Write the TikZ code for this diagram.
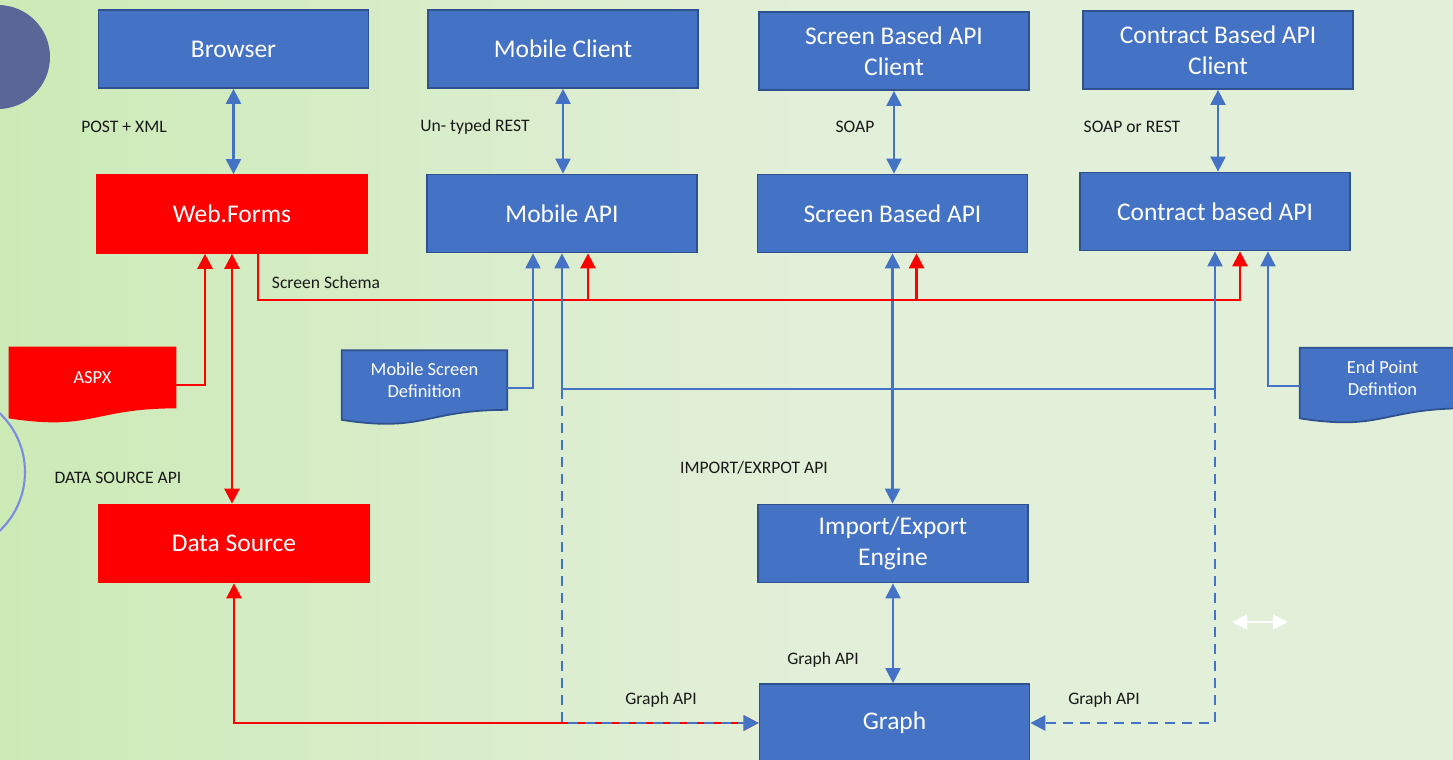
\documentclass[tikz,border=0pt]{standalone}
\usepackage{fontspec}
\setmainfont{Carlito}
\usetikzlibrary{arrows.meta,backgrounds}

\definecolor{boxblue}{HTML}{4472C4}
\definecolor{boxedge}{HTML}{2F528F}
\definecolor{bgleft}{HTML}{CCEAB6}
\definecolor{bgright}{HTML}{E2EFD9}
\definecolor{dotblue}{HTML}{5A6598}
\definecolor{ringblue}{HTML}{7B8BE0}

\newcommand{\boxfont}{\fontsize{14.5}{17.6}\selectfont}
\newcommand{\docfont}{\fontsize{10.5}{12.5}\selectfont}
\newcommand{\labelfont}{\fontsize{10}{12}\selectfont}

\begin{document}
\begin{tikzpicture}[x=0.02cm, y=-0.02cm]
        \tikzstyle{api-box}=[rectangle, draw=boxedge, line width=1pt, fill=boxblue, text=white, font=\boxfont, align=center, minimum width=5.4cm, minimum height=1.56cm, inner sep=0pt]
        \tikzstyle{source-box}=[api-box, draw=red, fill=red]
        \tikzstyle{doc-text}=[rectangle, text=white, font=\docfont, align=center, minimum width=3.3cm, minimum height=1.2cm, inner sep=0pt]
        \tikzstyle{api-label}=[font=\labelfont, text=black!90]
        \tikzstyle{flow}=[{Triangle[length=0.3cm,width=0.3cm]}-{Triangle[length=0.3cm,width=0.3cm]}, line width=1.2pt, color=boxblue]
        \tikzstyle{into}=[-{Triangle[length=0.3cm,width=0.3cm]}, line width=1.2pt, color=boxblue]
        \tikzstyle{graph-link}=[into, line width=1.5pt, dash pattern=on 0.2cm off 0.14cm]
        \tikzstyle{schema}=[-{Triangle[length=0.3cm,width=0.3cm]}, line width=1.5pt, color=red]
        \tikzstyle{data-flow}=[schema, {Triangle[length=0.3cm,width=0.3cm]}-{Triangle[length=0.3cm,width=0.3cm]}]

        \useasboundingbox (0,0) rectangle (1453,760);
        \begin{scope}[on background layer]
            \shade[left color=bgleft, right color=bgright] (0,0) rectangle (800,760);
            \fill[bgright] (800,0) rectangle (1453,760);
            \fill[dotblue] (-2,57) circle (1.04cm);
            \draw[ringblue, line width=1.2pt] (-56,472) circle (1.62cm);
        \end{scope}

        % clients
        \node[api-box] (browser) at (233.5,49) {Browser};
        \node[api-box] (mobile-client) at (563,49) {Mobile Client};
        \node[api-box] (screen-client) at (894,51) {Screen Based API\\Client};
        \node[api-box] (contract-client) at (1218,50) {Contract Based API\\Client};

        % apis
        \node[source-box] (web-forms) at (232,214) {Web.Forms};
        \node[api-box] (mobile-api) at (562,213.5) {Mobile API};
        \node[api-box] (screen-api) at (892.5,213.5) {Screen Based API};
        \node[api-box] (contract-api) at (1215,211.5) {Contract based API};
        \node[source-box] (data-source) at (234,543.5) {Data Source};
        \node[api-box] (import-export) at (893,543.5) {Import/Export\\Engine};
        \node[api-box] (graph) at (894.5,723) {Graph};

        % definitions
        \node[doc-text, minimum width=3.34cm, minimum height=1.22cm] (aspx) at (92.5,377.5) {ASPX};
        \node[doc-text, minimum height=1.18cm] (mobile-def) at (424.5,380) {Mobile Screen\\Definition};
        \node[doc-text] (end-point) at (1382.5,378) {End Point\\Defintion};
        \begin{scope}[on background layer]
            \fill[red] (aspx.north west) -- (aspx.north east) -- (aspx.south east) .. controls (aspx.south) and ([yshift=-0.46cm]aspx.south) .. ([yshift=-0.2cm]aspx.south west) -- cycle;
            \filldraw[fill=boxblue, draw=boxedge, line width=1pt] (mobile-def.north west) -- (mobile-def.north east) -- (mobile-def.south east) .. controls (mobile-def.south) and ([yshift=-0.46cm]mobile-def.south) .. ([yshift=-0.2cm]mobile-def.south west) -- cycle;
            \filldraw[fill=boxblue, draw=boxedge, line width=1pt] (end-point.north west) -- (end-point.north east) -- (end-point.south east) .. controls (end-point.south) and ([yshift=-0.46cm]end-point.south) .. ([yshift=-0.2cm]end-point.south west) -- cycle;
        \end{scope}

        \coordinate (schema-bus) at (0,300);
        \coordinate (graph-bus) at (0,389);
        \coordinate (loose-left) at (1232,622);
        \coordinate (loose-right) at (1288,622);

        \draw[flow] (browser.south) -- (browser.south |- web-forms.north);
        \draw[flow] (mobile-client.south) -- (mobile-client.south |- mobile-api.north);
        \draw[flow] (screen-client.south) -- (screen-client.south |- screen-api.north);
        \draw[flow] (contract-client.south) -- (contract-client.south |- contract-api.north);
        \draw[flow] (screen-api.south) -- (screen-api.south |- import-export.north);
        \draw[flow] (import-export.south) -- (import-export.south |- graph.north);

        \draw[schema] ([xshift=0.52cm]web-forms.south) |- ([xshift=0.5cm]contract-api.south |- schema-bus) -- ([xshift=0.5cm]contract-api.south);
        \draw[schema] ([xshift=0.52cm]mobile-api.south |- schema-bus) -- ([xshift=0.52cm]mobile-api.south);
        \draw[schema] ([xshift=0.48cm]screen-api.south |- schema-bus) -- ([xshift=0.48cm]screen-api.south);
        \draw[schema] ([yshift=-0.15cm]aspx.east) -| ([xshift=-0.54cm]web-forms.south);
        \draw[data-flow] (web-forms.south) -- (web-forms.south |- data-source.north);
        \draw[data-flow] (data-source.south) |- (graph.west);

        \draw[into] ([yshift=-0.16cm]mobile-def.east) -| ([xshift=-0.58cm]mobile-api.south);
        \draw[into] ([yshift=-0.16cm]end-point.west) -| ([xshift=1.06cm]contract-api.south);
        \draw[flow] (mobile-api.south) |- (contract-api.south |- graph-bus) -- (contract-api.south);
        \draw[graph-link] (mobile-api.south |- graph-bus) |- (graph.west);
        \draw[graph-link] (contract-api.south |- graph-bus) |- (graph.east);
        \draw[flow, color=white] (loose-left) -- (loose-right);

        \node[api-label] (post-label) at (124,127) {POST + XML};
        \node[api-label] (rest-label) at (475,127) {Un- typed REST};
        \node[api-label] (soap-label) at (855,127) {SOAP};
        \node[api-label] (soap-rest-label) at (1132,127) {SOAP or REST};
        \node[api-label] (schema-label) at (326,282) {Screen Schema};
        \node[api-label] (ds-label) at (118,478) {DATA SOURCE API};
        \node[api-label] (ie-label) at (754,468) {IMPORT/EXRPOT API};
        \node[api-label] (graph-label) at (823,660) {Graph API};
        \node[api-label] (left-graph-label) at (661,700) {Graph API};
        \node[api-label] (right-graph-label) at (1104,700) {Graph API};
\end{tikzpicture}
\end{document}
